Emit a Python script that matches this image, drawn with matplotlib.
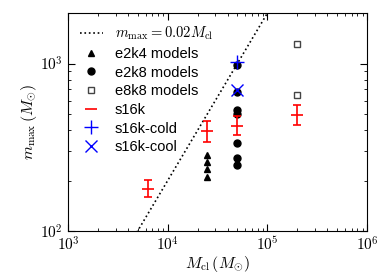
import numpy as np
import matplotlib
matplotlib.use("Agg")
import matplotlib.pyplot as plt
from matplotlib.ticker import FuncFormatter

plt.rcParams['font.family'] = ['Liberation Sans', 'DejaVu Sans']
plt.rcParams['mathtext.fontset'] = 'cm'

# cluster masses (Msun) and maximum stellar masses
M_e2k4 = [25000, 25000, 25000, 25000]
m_e2k4 = [283, 258, 236, 210]

M_e2k8 = [50000, 50000, 50000, 50000, 50000, 50000, 50000]
m_e2k8 = [986, 675, 525, 497, 333, 274, 247]

M_e8k8 = [200000, 200000]
m_e8k8 = [1300, 653]

# s16k: mean with asymmetric errors
M_s16k = [6400, 25000, 50000, 200000]
m_s16k = [178, 395, 422, 490]
err_lo = [18, 55, 49, 62]
err_hi = [23, 59, 62, 73]

M_cold = [50000]
m_cold = [1020]
M_cool = [50000]
m_cool = [690]

# m_max = 0.02 M_cl relation
M_line = np.array([1e3, 1e6])
ratio = 0.02

fig = plt.figure(figsize=(3.82, 2.73), dpi=100)
ax = fig.add_axes([0.178, 0.154, 0.783, 0.798])

ax.plot(M_line, ratio * M_line, 'k:', lw=1.2, label=r'$m_{\rm max}=0.02M_{\rm cl}$')
ax.plot(M_e2k4, m_e2k4, 'k^', ms=5, ls='none', label='e2k4 models')
ax.plot(M_e2k8, m_e2k8, 'ko', ms=5, ls='none', label='e2k8 models')
ax.plot(M_e8k8, m_e8k8, 's', ms=5, mfc='white', mec='#444444', mew=1.0, ls='none',
        label='e8k8 models')
ax.errorbar(M_s16k, m_s16k, yerr=[err_lo, err_hi], fmt='none', ecolor='red',
            elinewidth=1.2, capsize=3, capthick=1.2)
ax.plot(M_s16k, m_s16k, 'r_', ms=8, mew=1.2, ls='none', label='s16k')
ax.plot(M_cold, m_cold, 'b+', ms=10, mew=1.0, ls='none', label='s16k-cold')
ax.plot(M_cool, m_cool, 'bx', ms=9, mew=1.0, ls='none', label='s16k-cool')

ax.set_xscale('log')
ax.set_yscale('log')
ax.set_xlim(1e3, 1e6)
ax.set_ylim(1e2, 2e3)

# tick labels in computer modern like the original
pow_fmt = FuncFormatter(lambda v, pos: r'$10^{%d}$' % round(np.log10(v)))
ax.xaxis.set_major_formatter(pow_fmt)
ax.yaxis.set_major_formatter(pow_fmt)

ax.set_xlabel(r'$M_{\rm cl}\,(M_{\odot})$', fontsize=11.5, labelpad=0)
ax.set_ylabel(r'$m_{\rm max}\,(M_{\odot})$', fontsize=11.5, labelpad=1)
ax.tick_params(which='both', direction='in', top=True, right=True, labelsize=11)
ax.tick_params(which='major', length=5, pad=3.5)
ax.tick_params(which='minor', length=2.5)

ax.legend(loc='upper left', frameon=False, fontsize=10.5, numpoints=1,
          handlelength=1.6, handletextpad=0.8, labelspacing=0.32,
          borderaxespad=0.3, borderpad=0.5)

fig.savefig('out.png', dpi=100)
